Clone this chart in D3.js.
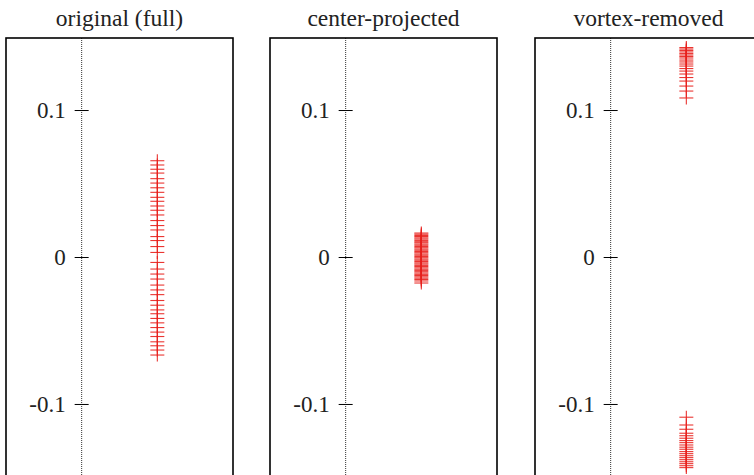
<!DOCTYPE html>
<html>
<head>
<meta charset="utf-8">
<script src="https://cdn.jsdelivr.net/npm/d3@7"></script>
<style>
  body { margin: 0; background: #fff; }
  svg { display: block; }
  text { font-family: "Liberation Serif", "DejaVu Serif", serif; fill: #222; }
</style>
</head>
<body>
<div id="chart"></div>
<script>
// panel titles
const titles = ["original (full)", "center-projected", "vortex-removed"];
const yTicks = [-0.1, 0, 0.1];

// y values of the points, x is always 1
const fullY = [0.0655, 0.0626, 0.0597, 0.0571, 0.0533, 0.0503, 0.0471, 0.0440, 0.0406, 0.0379,
  0.0347, 0.0318, 0.0286, 0.0248, 0.0214, 0.0184, 0.0139, 0.0112, 0.0071, 0.0031,
  -0.0037, -0.0082, -0.0116, -0.0150, -0.0191, -0.0224, -0.0256, -0.0296, -0.0328, -0.0360,
  -0.0386, -0.0418, -0.0448, -0.0480, -0.0511, -0.0541, -0.0577, -0.0604, -0.0633, -0.0667];

const centerY = [0.0163, 0.0155, 0.0146, 0.0139, 0.0130, 0.0122, 0.0113, 0.0104, 0.0097, 0.0088,
  0.0080, 0.0071, 0.0063, 0.0054, 0.0046, 0.0037, 0.0029, 0.0020, 0.0012, 0.0003,
  -0.0005, -0.0014, -0.0022, -0.0031, -0.0040, -0.0048, -0.0057, -0.0065, -0.0074, -0.0083,
  -0.0091, -0.0100, -0.0109, -0.0118, -0.0126, -0.0135, -0.0144, -0.0153, -0.0163, -0.0177];

const vortexY = [0.1425, 0.1415, 0.1405, 0.1395, 0.1384, 0.1374, 0.1364, 0.1354, 0.1340, 0.1327,
  0.1313, 0.1299, 0.1282, 0.1265, 0.1245, 0.1221, 0.1197, 0.1163, 0.1129, 0.1082,
  -0.1090, -0.1143, -0.1172, -0.1199, -0.1216, -0.1233, -0.1249, -0.1263, -0.1279, -0.1294,
  -0.1308, -0.1324, -0.1338, -0.1352, -0.1365, -0.1379, -0.1393, -0.1406, -0.1420, -0.1433];

const series = [fullY, centerY, vortexY];

const W = 754, H = 475;
const panelW = 227, panelTop = 38, panelBottom = 478;
const panelLeft = [6, 270, 535];

const svg = d3.select("#chart").append("svg")
  .attr("width", W)
  .attr("height", H);

const x = d3.scaleLinear().domain([-1, 2]).range([0, panelW]);
const y = d3.scaleLinear().domain([-0.149, 0.149]).range([panelBottom - 2, panelTop]);

series.forEach((vals, i) => {
  const g = svg.append("g")
    .attr("transform", "translate(" + panelLeft[i] + ",0)");

  g.append("text")
    .attr("x", panelW / 2)
    .attr("y", 26)
    .attr("text-anchor", "middle")
    .style("font-size", "23.5px")
    .text(titles[i]);

  // dotted zero line
  g.append("line")
    .attr("x1", x(0)).attr("x2", x(0))
    .attr("y1", panelTop).attr("y2", panelBottom)
    .attr("stroke", "#333")
    .attr("stroke-width", 1)
    .attr("stroke-dasharray", "1,1");

  const axis = d3.axisLeft(y)
    .tickValues(yTicks)
    .tickSize(14)
    .tickPadding(9)
    .tickFormat(d => d === 0 ? "0" : String(d));

  const ax = g.append("g")
    .attr("transform", "translate(" + (x(0) + 7) + ",0)")
    .call(axis);
  ax.select(".domain").remove();
  ax.selectAll(".tick line").attr("stroke", "#000");
  ax.selectAll(".tick text")
    .style("font-size", "23px")
    .style("font-family", "Liberation Serif, serif")
    .attr("fill", "#222");

  // plus markers
  const pts = g.selectAll(".pt").data(vals).join("g")
    .attr("class", "pt")
    .attr("transform", d => "translate(" + x(1) + "," + y(d) + ")");
  pts.append("line")
    .attr("x1", -7).attr("x2", 7).attr("y1", 0).attr("y2", 0);
  pts.append("line")
    .attr("x1", 0).attr("x2", 0).attr("y1", -6.5).attr("y2", 6.5);
  pts.selectAll("line")
    .attr("stroke", "#e8201c")
    .attr("stroke-width", 1.1)
    .attr("stroke-opacity", 0.9);

  // frame
  g.append("rect")
    .attr("x", 0).attr("y", panelTop)
    .attr("width", panelW).attr("height", panelBottom - panelTop + 10)
    .attr("fill", "none")
    .attr("stroke", "#000")
    .attr("stroke-width", 1.6);
});
</script>
</body>
</html>
